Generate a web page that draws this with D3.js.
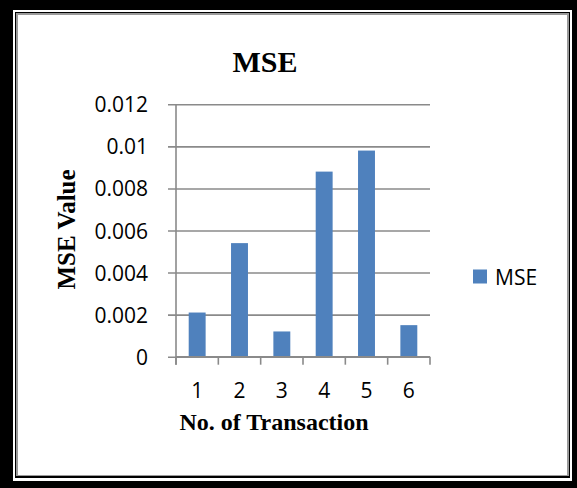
<!DOCTYPE html>
<html>
<head>
<meta charset="utf-8">
<script src="https://cdn.jsdelivr.net/npm/d3@7"></script>
<style>
  html, body { margin: 0; padding: 0; background: #fff; }
  svg { display: block; }
</style>
</head>
<body>
<svg id="chart" width="577" height="488"></svg>
<script>
// Chart data
const categories = ["1", "2", "3", "4", "5", "6"];
const mseValues = [0.0021, 0.0054, 0.0012, 0.0088, 0.0098, 0.0015];
const yTickValues = [0, 0.002, 0.004, 0.006, 0.008, 0.01, 0.012];
const yTickLabels = ["0", "0.002", "0.004", "0.006", "0.008", "0.01", "0.012"];
const seriesName = "MSE";
const chartTitle = "MSE";
const xTitle = "No. of Transaction";
const yTitle = "MSE Value";

const W = 577, H = 488;
const svg = d3.select("#chart");

// Double frame around the chart
svg.append("rect").attr("x", 0).attr("y", 0).attr("width", W).attr("height", H).attr("fill", "#000");
svg.append("rect").attr("x", 13).attr("y", 10).attr("width", 559).attr("height", 471).attr("fill", "#fff");
svg.append("rect").attr("x", 15).attr("y", 12).attr("width", 555).attr("height", 466).attr("fill", "#000");
svg.append("rect").attr("x", 16).attr("y", 13).attr("width", 553).attr("height", 463).attr("fill", "#9a9a9a");
svg.append("rect").attr("x", 18).attr("y", 15).attr("width", 549).attr("height", 460).attr("fill", "#fff");

// Plot area
const plot = { left: 176, right: 430, top: 104.3, bottom: 356.7 };
const gridColor = "#8a8a8a";

const x = d3.scaleBand().domain(categories).range([plot.left, plot.right]).paddingInner(0.6).paddingOuter(0.3);
const xb = d3.scaleBand().domain(categories).range([plot.left, plot.right]);
const y = d3.scaleLinear().domain([0, 0.012]).range([plot.bottom, plot.top]);

// Horizontal gridlines with outside tick marks
const yAxis = d3.axisLeft(y)
  .tickValues(yTickValues)
  .tickFormat((d, i) => yTickLabels[i])
  .tickSize(-(plot.right - plot.left))
  .tickPadding(28);

const gy = svg.append("g").attr("transform", `translate(${plot.left},0)`).call(yAxis);
gy.select(".domain").remove();
gy.selectAll(".tick line")
  .attr("x1", -8)
  .attr("stroke", gridColor)
  .attr("stroke-width", 1.6);
gy.selectAll(".tick text")
  .attr("font-family", "'Open Sans', sans-serif")
  .attr("font-size", "21px")
  .attr("fill", "#000")
  .attr("dy", "0.36em");

// Vertical axis line
svg.append("line")
  .attr("x1", plot.left).attr("x2", plot.left)
  .attr("y1", plot.top).attr("y2", plot.bottom + 8)
  .attr("stroke", gridColor).attr("stroke-width", 1.6);

// Bars
svg.append("g").selectAll("rect")
  .data(mseValues)
  .join("rect")
  .attr("x", (d, i) => x(categories[i]))
  .attr("y", d => y(d))
  .attr("width", x.bandwidth())
  .attr("height", d => y(0) - y(d))
  .attr("fill", "#4f81bd");

// Category axis: baseline with ticks at band boundaries
const boundaries = categories.map(c => xb(c)).concat([plot.right]);
svg.append("line")
  .attr("x1", plot.left).attr("x2", plot.right)
  .attr("y1", plot.bottom).attr("y2", plot.bottom)
  .attr("stroke", gridColor).attr("stroke-width", 1.6);
svg.append("g").selectAll("line")
  .data(boundaries)
  .join("line")
  .attr("x1", d => d).attr("x2", d => d)
  .attr("y1", plot.bottom).attr("y2", plot.bottom + 8)
  .attr("stroke", gridColor).attr("stroke-width", 1.6);

svg.append("g").selectAll("text")
  .data(categories)
  .join("text")
  .attr("x", d => xb(d) + xb.bandwidth() / 2)
  .attr("y", 398)
  .attr("text-anchor", "middle")
  .attr("font-family", "'Open Sans', sans-serif")
  .attr("font-size", "21px")
  .attr("fill", "#000")
  .text(d => d);

// Titles
svg.append("text")
  .attr("x", 265).attr("y", 72)
  .attr("text-anchor", "middle")
  .attr("font-family", "'Liberation Serif', 'Times New Roman', serif")
  .attr("font-weight", "bold")
  .attr("font-size", "30px")
  .text(chartTitle);

svg.append("text")
  .attr("x", 274).attr("y", 430)
  .attr("text-anchor", "middle")
  .attr("font-family", "'Liberation Serif', 'Times New Roman', serif")
  .attr("font-weight", "bold")
  .attr("font-size", "24px")
  .text(xTitle);

svg.append("text")
  .attr("transform", "translate(75,229.5) rotate(-90)")
  .attr("text-anchor", "middle")
  .attr("font-family", "'Liberation Serif', 'Times New Roman', serif")
  .attr("font-weight", "bold")
  .attr("font-size", "25px")
  .text(yTitle);

// Legend
const legend = svg.append("g").attr("transform", "translate(473,269.5)");
legend.append("rect").attr("width", 14).attr("height", 14).attr("fill", "#4f81bd");
legend.append("text")
  .attr("x", 22).attr("y", 15)
  .attr("font-family", "'Open Sans', sans-serif")
  .attr("font-size", "21px")
  .attr("fill", "#000")
  .text(seriesName);
</script>
</body>
</html>
